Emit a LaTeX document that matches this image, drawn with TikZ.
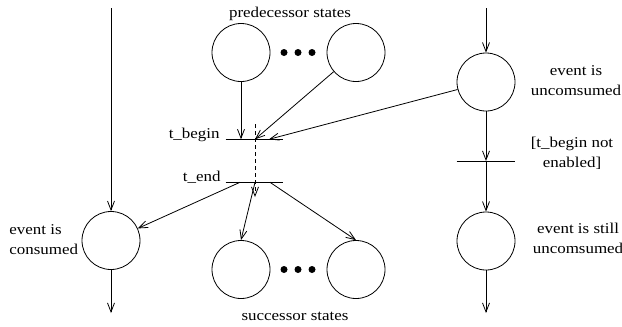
\documentclass[tikz,border=0pt]{standalone}
\usepackage{fontspec}
\setmainfont{Liberation Serif}[FakeStretch=1.13]
\usetikzlibrary{arrows.meta}
\begin{document}
\begin{tikzpicture}[x=1pt,y=-1pt,
  line width=0.8pt,
  >={Straight Barb[length=9pt,width=7pt,line width=0.8pt]},
  place/.style={circle,draw,minimum size=58pt,inner sep=0pt},
  bar/.style={minimum width=57pt,minimum height=0pt,inner sep=0pt},
  blob/.style={circle,fill=black,minimum size=7pt,inner sep=0pt},
  lbl/.style={inner sep=0pt,font=\fontsize{15}{20}\selectfont}]
\useasboundingbox (0,0) rectangle (622,327);

% places
\node[place] (pl) at (241,52.5) {};
\node[place] (pr) at (356,52.5) {};
\node[place] (sl) at (241,269.5) {};
\node[place] (sr) at (356,269.5) {};
\node[place] (ec) at (111,240.5) {};
\node[place] (eu) at (486,82) {};
\node[place] (es) at (486,241) {};

% ellipsis dots
\foreach \i/\x in {1/284,2/298,3/312} {
  \node[blob] (pd\i) at (\x,52.5) {};
  \node[blob] (sd\i) at (\x,269.5) {};
}

% transitions
\node[bar] (tb) at (254.5,139.3) {};
\node[bar] (te) at (254.5,182.3) {};
\node[bar,minimum width=58pt] (rt) at (486,161) {};
\draw (tb.west) -- (tb.east);
\draw (te.west) -- (te.east);
\draw (rt.west) -- (rt.east);

% connector end points
\coordinate (lt) at (111,8);
\coordinate (lb) at (111,313);
\coordinate (rtop) at (486,8);
\coordinate (rbot) at (486,313);
\coordinate (tbm) at (255,139.3);
\coordinate (tbr) at (269,139.3);
\coordinate (tel) at (240,182.3);
\coordinate (tem) at (255,182.3);
\coordinate (ter) at (270,182.3);
\coordinate (dtop) at (255,124);
\coordinate (dbot) at (255,197);

% left column
\draw[->] (lt) -- (ec.north);
\draw[->] (ec.south) -- (lb);

% into t_begin
\draw[->] (pl.south) -- (pl.south |- tb);
\draw[->] (pr) -- (tbm);
\draw[->] (eu) -- (tbr);
\draw[dashed,dash pattern=on 4pt off 3pt,->] (dtop) -- (dbot);

% out of t_end
\draw[->] (tel) -- (ec);
\draw[->] (tem) -- (sl.north);
\draw[->] (ter) -- (sr.north);

% right column
\draw[->] (rtop) -- (eu.north);
\draw[->] (eu.south) -- (rt.center);
\draw[->] (rt.center) -- (es.north);
\draw[->] (es.south) -- (rbot);

% labels
\node[lbl,anchor=base] (tpred) at (290,17) {predecessor states};
\node[lbl,anchor=base] (tsucc) at (295,320) {successor states};
\node[lbl,anchor=base east] (ttb) at (220,138.5) {t\_begin};
\node[lbl,anchor=base east] (tte) at (221,181.5) {t\_end};
\node[lbl,align=left,anchor=west] (tcons) at (9,240) {event is\\consumed};
\node[lbl,align=center] (tunc) at (576,81) {event is\\uncomsumed};
\node[lbl,align=center] (tnot) at (572,153) {[t\_begin not\\enabled]};
\node[lbl,align=center] (tstill) at (578,238.5) {event is still\\uncomsumed};
\end{tikzpicture}
\end{document}
